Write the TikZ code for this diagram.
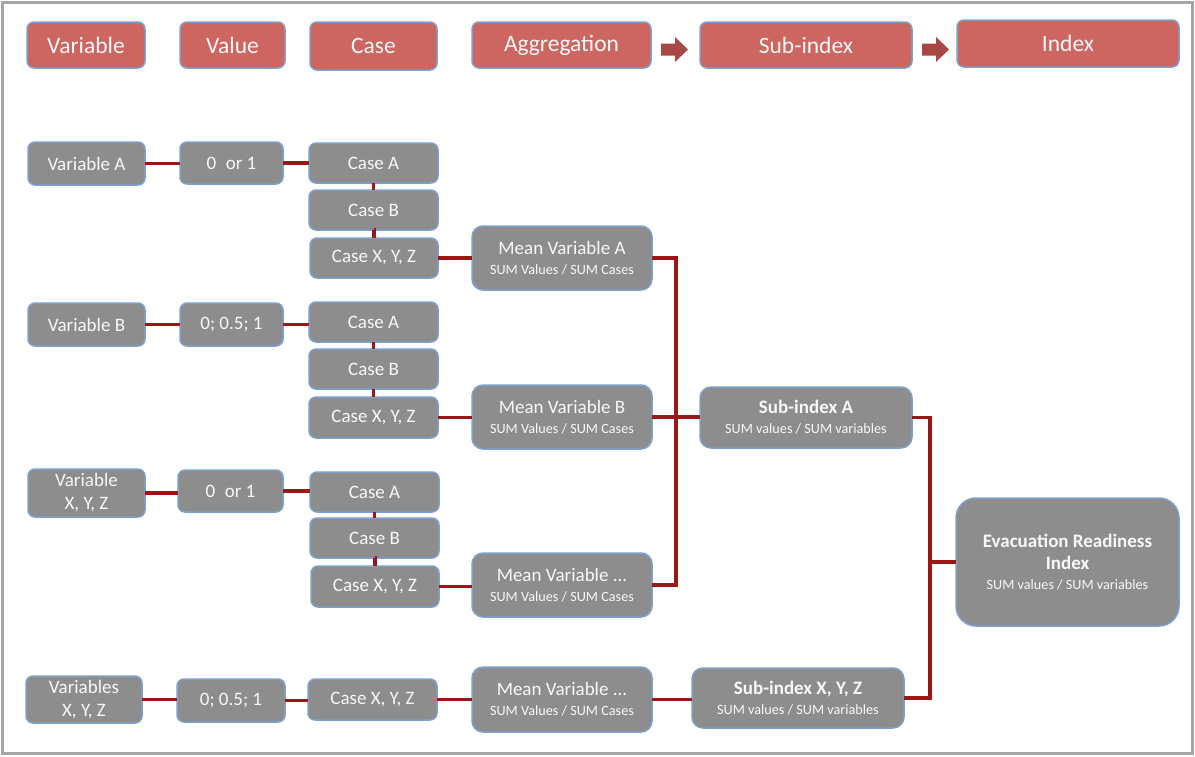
\documentclass[tikz,border=0pt]{standalone}
\usepackage{fontspec}
\setmainfont{Carlito}

\definecolor{hred}{RGB}{205,102,97}
\definecolor{gfill}{RGB}{141,141,141}
\definecolor{bblue}{RGB}{125,160,205}
\definecolor{conn}{RGB}{155,22,22}
\definecolor{arrowc}{RGB}{168,72,68}
\definecolor{framegrey}{RGB}{165,165,165}
\definecolor{txt}{RGB}{248,248,248}

\newcommand{\hfnt}{\fontsize{23.5}{28}\selectfont}
\newcommand{\mfnt}{\fontsize{19}{22}\selectfont}
\newcommand{\sfnt}{\fontsize{14.2}{17}\selectfont}

\tikzset{
  basebox/.style={draw=bblue, line width=1.5pt, text=txt, align=center,
    inner sep=0pt, outer sep=0pt},
  headbox/.style={basebox, fill=hred, rounded corners=7pt, font=\hfnt},
  greybox/.style={basebox, fill=gfill, rounded corners=7pt, font=\mfnt},
  aggbox/.style={basebox, fill=gfill, rounded corners=11pt, font=\mfnt},
  bigbox/.style={basebox, fill=gfill, rounded corners=20pt, font=\mfnt},
  wire/.style={draw=conn, line width=3.3pt},
  flowarrow/.style={fill=arrowc}
}

% block arrow starting at the given point (tail centre), pointing right
\newcommand{\blockarrow}[1]{%
  \fill[flowarrow] (#1) ++(0,-6) -- ++(14,0) -- ++(0,-6.5) -- ++(13,12.5)
    -- ++(-13,12.5) -- ++(0,-6.5) -- ++(-14,0) -- cycle;}

\begin{document}
\begin{tikzpicture}[x=1pt, y=-1pt]
\useasboundingbox (0,0) rectangle (1195,756);
\draw[framegrey, line width=3pt] (2.5,2.5) rectangle (1192.5,753.5);

% header row
\node[headbox, minimum width=118, minimum height=46] (hVar)  at (86,45)     {Variable};
\node[headbox, minimum width=105, minimum height=46] (hVal)  at (232.5,45)  {Value};
\node[headbox, minimum width=127, minimum height=48] (hCase) at (373.5,46)  {Case};
\node[headbox, minimum width=179, minimum height=46] (hAgg)  at (561.5,45)  {Aggregation};
\node[headbox, minimum width=212, minimum height=46] (hSub)  at (806,45)    {Sub-index};
\node[headbox, minimum width=222, minimum height=47] (hIdx)  at (1068,43.5) {Index};
\coordinate (ar1) at (661,49.5);
\coordinate (ar2) at (922,49.5);
\blockarrow{ar1}
\blockarrow{ar2}

% block A
\node[greybox, minimum width=117, minimum height=43] (vA)   at (86.5,163.5) {Variable A};
\node[greybox, minimum width=103, minimum height=42] (valA) at (231.5,163)  {0\enspace or 1};
\node[greybox, minimum width=129, minimum height=40] (cAa)  at (373.5,163)  {Case A};
\node[greybox, minimum width=129, minimum height=40] (cAb)  at (373.5,210)  {Case B};
\node[greybox, minimum width=128, minimum height=40] (cAx)  at (374,258)    {Case X, Y, Z};
\node[aggbox, minimum width=180, minimum height=64] (mA)    at (562,258)
  {Mean Variable A\\[-2pt]{\sfnt SUM Values / SUM Cases}};

% block B
\node[greybox, minimum width=117, minimum height=43] (vB)   at (86.5,324.5) {Variable B};
\node[greybox, minimum width=103, minimum height=43] (valB) at (231.5,324.5) {0; 0.5; 1};
\node[greybox, minimum width=129, minimum height=40] (cBa)  at (373.5,322)  {Case A};
\node[greybox, minimum width=129, minimum height=40] (cBb)  at (373.5,369)  {Case B};
\node[greybox, minimum width=129, minimum height=41] (cBx)  at (373.5,417.5) {Case X, Y, Z};
\node[aggbox, minimum width=180, minimum height=64] (mB)    at (562,417)
  {Mean Variable B\\[-2pt]{\sfnt SUM Values / SUM Cases}};
\node[aggbox, minimum width=212, minimum height=61] (sA)    at (806,417.5)
  {\textbf{Sub-index A}\\[-2pt]{\sfnt SUM values / SUM variables}};

% block X, Y, Z
\node[greybox, minimum width=117, minimum height=48] (vC)   at (86.5,493)
  {Variable\\[1pt]X, Y, Z};
\node[greybox, minimum width=105, minimum height=42] (valC) at (230.5,491)  {0\enspace or 1};
\node[greybox, minimum width=129, minimum height=40] (cCa)  at (374.5,492)  {Case A};
\node[greybox, minimum width=129, minimum height=40] (cCb)  at (374.5,538)  {Case B};
\node[greybox, minimum width=128, minimum height=41] (cCx)  at (375,586.5)  {Case X, Y, Z};
\node[aggbox, minimum width=180, minimum height=64] (mC)    at (562,585)
  {Mean Variable ...\\[-2pt]{\sfnt SUM Values / SUM Cases}};

% bottom row
\node[greybox, minimum width=116, minimum height=47] (vD)   at (84,699.5)
  {Variables\\[1pt]X, Y, Z};
\node[greybox, minimum width=108, minimum height=43] (valD) at (231,700.5)  {0; 0.5; 1};
\node[greybox, minimum width=129, minimum height=41] (cDx)  at (372.5,699.5) {Case X, Y, Z};
\node[aggbox, minimum width=180, minimum height=65] (mD)    at (562,699.5)
  {Mean Variable ...\\[-2pt]{\sfnt SUM Values / SUM Cases}};
\node[aggbox, minimum width=212, minimum height=60] (sD)    at (798,698)
  {\textbf{Sub-index X, Y, Z}\\[-2pt]{\sfnt SUM values / SUM variables}};

% final index
\node[bigbox, minimum width=223, minimum height=128] (eri)  at (1067.5,562)
  {\textbf{Evacuation Readiness}\\[0pt]\textbf{Index}\\[-2pt]{\sfnt SUM values / SUM variables}};

% bus positions
\coordinate (busA) at (676,0);
\coordinate (busB) at (930,0);

% connectors
\foreach \a/\b in {vA/valA, valA/cAa, cAx/mA, vB/valB, valB/cBa, cBx/mB,
                   vC/valC, valC/cCa, cCx/mC, vD/valD, valD/cDx, cDx/mD, mD/sD}
  \draw[wire] (\a.east) -- (\a.east -| \b.west);
\foreach \a/\b in {cAa/cAb, cAb/cAx, cBa/cBb, cBb/cBx, cCa/cCb, cCb/cCx}
  \draw[wire] (\a.south) -- (\a.south -| \b.north) -- (\b.north);
\draw[wire] (mA.east) -| (busA |- mC.east) -- (mC.east);
\draw[wire] (mB.east) -- (mB.east -| sA.west);
\draw[wire] (sA.east) -| (busB |- sD.east) -- (sD.east);
\draw[wire] (busB |- eri.west) -- (eri.west);
\end{tikzpicture}
\end{document}
